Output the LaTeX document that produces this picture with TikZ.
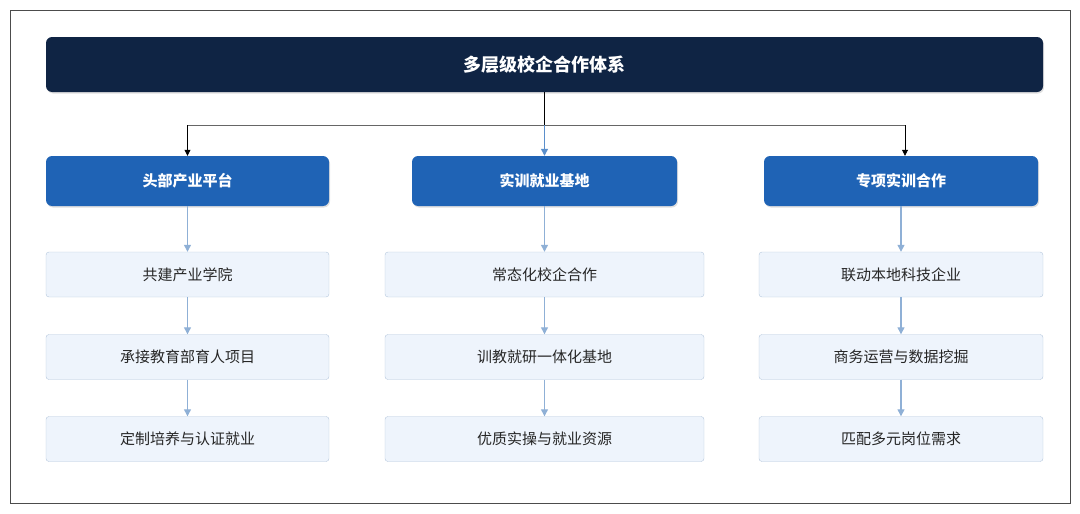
\documentclass[tikz,border=0pt]{standalone}
\usepackage{fontspec}
\setmainfont{Noto Sans CJK SC}
\usetikzlibrary{arrows.meta,shadows}
\definecolor{navy}{HTML}{0F2444}
\definecolor{hblue}{HTML}{1F63B5}
\definecolor{lbox}{HTML}{EEF4FC}
\definecolor{lline}{HTML}{B4C6DC}
\definecolor{arr}{HTML}{8FB0D6}
\definecolor{marr}{HTML}{5B8FCB}
\begin{document}
\begin{tikzpicture}[x=1pt,y=-1pt,
  hdr/.style={draw=none,fill=hblue,rounded corners=6pt,text=white,font=\bfseries\fontsize{15}{18}\selectfont,drop shadow={opacity=0.25,shadow xshift=1pt,shadow yshift=-1.5pt}},
  item/.style={draw=lline,fill=lbox,rounded corners=3pt,font=\fontsize{15}{18}\selectfont,text=black!85},
  la/.style={draw=arr,line width=1.2pt,-{Triangle[length=7pt,width=7pt]}},
  ba/.style={draw=black,line width=0.8pt,-{Triangle[length=6pt,width=6pt]}}]
\useasboundingbox (0,0) rectangle (1080,514);
\draw[black!70,line width=0.8pt] (10,10) rectangle (1070,503);
\node[fill=navy,rounded corners=6pt,text=white,font=\bfseries\fontsize{18}{22}\selectfont,minimum width=997pt,minimum height=55pt,inner sep=0pt,drop shadow={opacity=0.25,shadow xshift=1pt,shadow yshift=-1.5pt}] (top) at (544.5,64.5) {多层级校企合作体系};
\foreach \n/\x/\w/\t in {h1/187.5/283/头部产业平台,h2/544.5/265/实训就业基地,h3/901/274/专项实训合作}{
  \node[hdr,minimum width=\w pt,minimum height=50pt,inner sep=0pt] (\n) at (\x,181) {\t};
}
\coordinate (j) at (544.5,125);
\coordinate (jl) at (187.5,125);
\coordinate (jr) at (905,125);
\draw[black,line width=0.8pt] (top.south) -- (j);
\draw[black!60,line width=1pt] (jl) -- (jr);
\draw[ba] (jl) -- (h1.north);
\draw[ba] (jr) -- (jr|-h3.north);
\draw[draw=marr,line width=1.2pt,-{Triangle[length=7pt,width=7pt]}] (j) -- (h2.north);
\foreach \c/\x/\w/\a/\b/\cc in {a/187.5/283/共建产业学院/承接教育部育人项目/定制培养与认证就业,
  b/544.5/319/常态化校企合作/训教就研一体化基地/优质实操与就业资源,
  c/901/284/联动本地科技企业/商务运营与数据挖掘/匹配多元岗位需求}{
  \node[item,minimum width=\w pt,minimum height=45pt,inner sep=0pt] (\c1) at (\x,274.5) {\a};
  \node[item,minimum width=\w pt,minimum height=45pt,inner sep=0pt] (\c2) at (\x,357) {\b};
  \node[item,minimum width=\w pt,minimum height=45pt,inner sep=0pt] (\c3) at (\x,439) {\cc};
  \draw[la] (\c1.south) -- (\c2.north);
  \draw[la] (\c2.south) -- (\c3.north);
}
\draw[la] (h1.south) -- (a1.north);
\draw[la] (h2.south) -- (b1.north);
\draw[la] (h3.south) -- (c1.north);
\end{tikzpicture}
\end{document}
